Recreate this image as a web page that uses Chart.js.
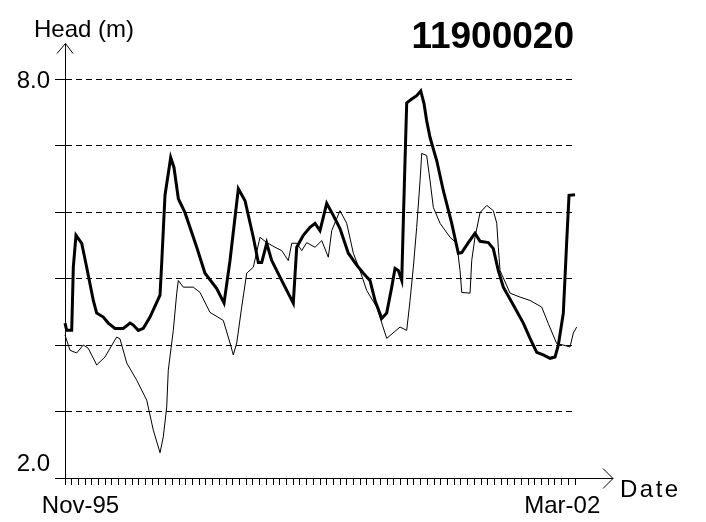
<!DOCTYPE html>
<html>
<head>
<meta charset="utf-8">
<script src="https://cdn.jsdelivr.net/npm/chart.js@4.4.1/dist/chart.umd.min.js"></script>
<style>
  html, body { margin: 0; padding: 0; background: #fff; }
  canvas { display: block; }
</style>
</head>
<body>
<canvas id="c" width="706" height="522"></canvas>
<script>
// ---- data (x = months since Nov-95, y = head in metres) ----
const chartTitle = '11900020';
const yAxisTitle = 'Head (m)';
const xAxisTitle = 'Date';
const xTickLabels = ['Nov-95', 'Mar-02'];
const xLabelPos = [2.31, 74.1];
const yTickLabels = ['2.0', '8.0'];
const yLabelPos = [2.21, 7.97];
const monthCount = 76;

const thickMonths = [0, 0.25, 1.0, 1.24, 1.64, 2.49, 3.23, 4.22, 4.72, 5.71, 6.45, 7.45, 8.69, 9.69, 10.18, 10.92, 11.67, 12.67, 14.16, 14.41, 14.9, 15.75, 16.24, 16.89, 17.88, 19.63, 20.86, 22.61, 23.70, 24.59, 25.83, 26.83, 28.06, 28.81, 29.31, 30.06, 30.80, 32.04, 34.02, 34.53, 35.51, 36.51, 37.26, 38.0, 39.0, 39.98, 40.98, 42.22, 43.47, 44.46, 45.45, 46.20, 47.2, 47.94, 48.69, 49.18, 49.67, 50.18, 50.42, 50.67, 50.92, 51.67, 52.41, 53.01, 53.5, 53.9, 54.4, 55.4, 56.38, 57.63, 58.61, 59.12, 60.1, 61.1, 61.85, 63.08, 63.83, 64.57, 65.32, 66.81, 68.3, 69.3, 70.3, 71.28, 72.28, 73.03, 73.52, 74.26, 74.77, 75.11, 76.0];
const thickHeads = [4.33, 4.22, 4.22, 5.17, 5.65, 5.53, 5.17, 4.67, 4.48, 4.42, 4.33, 4.25, 4.25, 4.33, 4.30, 4.22, 4.25, 4.42, 4.75, 5.23, 6.25, 6.82, 6.67, 6.20, 5.99, 5.47, 5.08, 4.85, 4.63, 5.27, 6.35, 6.17, 5.62, 5.24, 5.24, 5.53, 5.27, 5.02, 4.63, 5.47, 5.65, 5.77, 5.83, 5.72, 6.13, 5.95, 5.75, 5.38, 5.20, 5.08, 4.97, 4.67, 4.40, 4.48, 4.87, 5.15, 5.12, 4.97, 5.87, 6.77, 7.64, 7.70, 7.75, 7.82, 7.63, 7.37, 7.12, 6.77, 6.32, 5.83, 5.38, 5.39, 5.54, 5.68, 5.56, 5.54, 5.45, 5.12, 4.87, 4.60, 4.33, 4.10, 3.89, 3.85, 3.80, 3.82, 4.00, 4.48, 5.57, 6.25, 6.26];

const thinMonths = [0, 0.75, 1.74, 2.73, 3.47, 4.72, 5.96, 7.70, 8.20, 9.20, 10.69, 12.18, 13.16, 14.16, 14.65, 15.16, 15.39, 16.14, 16.65, 16.89, 17.63, 19.12, 20.12, 21.61, 23.59, 24.59, 25.08, 25.59, 26.33, 27.08, 28.06, 29.06, 30.06, 31.30, 32.29, 33.28, 33.79, 34.53, 35.28, 36.02, 37.26, 38.26, 39.24, 39.75, 40.98, 41.98, 42.97, 43.96, 44.96, 46.45, 47.94, 49.93, 50.92, 51.42, 51.91, 52.41, 52.91, 53.16, 53.9, 54.4, 54.89, 55.89, 57.38, 58.38, 58.87, 59.12, 60.36, 60.61, 61.1, 61.85, 62.85, 63.83, 64.34, 64.57, 64.83, 66.32, 67.81, 69.3, 71.04, 72.03, 73.28, 74.22, 75.26, 75.75, 76.25];
const thinHeads = [4.15, 3.92, 3.88, 4.00, 3.95, 3.70, 3.82, 4.12, 4.09, 3.73, 3.47, 3.17, 2.72, 2.38, 2.62, 3.07, 3.62, 4.22, 4.78, 4.97, 4.87, 4.87, 4.79, 4.49, 4.37, 4.03, 3.85, 4.03, 4.57, 5.08, 5.17, 5.62, 5.54, 5.47, 5.42, 5.27, 5.53, 5.53, 5.42, 5.54, 5.47, 5.57, 5.32, 5.72, 6.02, 5.83, 5.38, 5.12, 4.82, 4.57, 4.10, 4.27, 4.22, 4.67, 5.17, 5.77, 6.47, 6.88, 6.85, 6.47, 6.07, 5.83, 5.62, 5.53, 5.12, 4.79, 4.78, 5.27, 5.62, 5.99, 6.10, 6.02, 5.83, 5.47, 5.12, 4.78, 4.72, 4.67, 4.57, 4.32, 4.02, 4.00, 3.97, 4.18, 4.27];

const toPoints = (xs, ys) => xs.map((m, i) => ({ x: m, y: ys[i] }));

Chart.defaults.font.family = "'Liberation Sans', Arial, sans-serif";
Chart.defaults.font.size = 24;
Chart.defaults.color = '#000';

const axisDecor = {
  id: 'axisDecor',
  afterDraw(chart) {
    const { ctx, scales: { x, y } } = chart;
    const x0 = Math.round(x.getPixelForValue(x.min)) + 0.5;
    const yTop = Math.round(y.getPixelForValue(y.max)) + 0.5;
    const yBot = Math.round(y.getPixelForValue(y.min)) + 0.5;
    const xr = Math.round(x.getPixelForValue(x.max));
    ctx.save();
    ctx.strokeStyle = '#000';
    ctx.lineWidth = 1;
    ctx.beginPath();
    // y axis extension with open arrow head
    ctx.moveTo(x0, yTop);
    ctx.lineTo(x0, yTop - 36);
    ctx.moveTo(x0 - 8.5, yTop - 26);
    ctx.lineTo(x0, yTop - 36);
    ctx.lineTo(x0 + 7.5, yTop - 26);
    // x axis extension with open arrow head
    ctx.moveTo(xr, yBot);
    ctx.lineTo(xr + 38, yBot);
    ctx.moveTo(xr + 28, yBot - 10);
    ctx.lineTo(xr + 38, yBot);
    ctx.lineTo(xr + 28, yBot + 10);
    ctx.stroke();

    ctx.fillStyle = '#000';
    ctx.textBaseline = 'alphabetic';
    ctx.font = "24px 'Liberation Sans', Arial, sans-serif";
    ctx.textAlign = 'left';
    ctx.fillText(yAxisTitle, 34, 37);
    ctx.letterSpacing = '2.5px';
    ctx.fillText(xAxisTitle, xr + 45, 497);
    ctx.letterSpacing = '0px';
    ctx.font = "bold 37px 'Liberation Sans', Arial, sans-serif";
    ctx.textAlign = 'right';
    ctx.fillText(chartTitle, xr - 1, 48);
    ctx.restore();
  }
};

new Chart(document.getElementById('c'), {
  type: 'line',
  data: {
    datasets: [
      { label: 'Head (thick)', data: toPoints(thickMonths, thickHeads), borderColor: '#000', borderWidth: 3, pointRadius: 0, tension: 0, fill: false, clip: 8, xAxisID: 'x', yAxisID: 'y' },
      { label: 'Head (thin)', data: toPoints(thinMonths, thinHeads), borderColor: '#000', borderWidth: 1, pointRadius: 0, tension: 0, fill: false, clip: 8, xAxisID: 'x', yAxisID: 'y' }
    ]
  },
  options: {
    responsive: false,
    animation: false,
    devicePixelRatio: 1,
    layout: { padding: { left: 0, top: 79, right: 131, bottom: 0 } },
    plugins: { legend: { display: false }, tooltip: { enabled: false }, title: { display: false } },
    scales: {
      x: {
        type: 'linear', position: 'bottom', weight: 0, min: 0, max: monthCount,
        ticks: { display: false, stepSize: 1, autoSkip: false },
        grid: { display: true, drawOnChartArea: false, drawTicks: true, tickLength: 7, color: '#000', lineWidth: 1 },
        border: { display: true, color: '#000', width: 1 },
        afterFit: (s) => { s.height = 7; }
      },
      xl: {
        type: 'linear', position: 'bottom', weight: 1, min: 0, max: monthCount,
        grid: { display: false, drawTicks: false }, border: { display: false },
        ticks: { autoSkip: false, maxRotation: 0, padding: 7, callback: (v, i) => xTickLabels[i] },
        afterBuildTicks: (s) => { s.ticks = xLabelPos.map(v => ({ value: v })); },
        afterFit: (s) => { s.height = 37; }
      },
      y: {
        type: 'linear', position: 'left', weight: 0, min: 2, max: 8,
        ticks: { display: false, stepSize: 1 },
        grid: { display: true, drawOnChartArea: true, drawTicks: true, tickLength: 10, color: '#000', lineWidth: 1, tickBorderDash: [] },
        border: { display: true, color: '#000', width: 1, dash: [6, 4] },
        afterFit: (s) => { s.width = 10; }
      },
      yl: {
        type: 'linear', position: 'left', weight: 1, min: 2, max: 8,
        grid: { display: false, drawTicks: false }, border: { display: false },
        ticks: { autoSkip: false, padding: 5, callback: (v, i) => yTickLabels[i] },
        afterBuildTicks: (s) => { s.ticks = yLabelPos.map(v => ({ value: v })); },
        afterFit: (s) => { s.width = 55; }
      }
    }
  },
  plugins: [axisDecor]
});
</script>
</body>
</html>
